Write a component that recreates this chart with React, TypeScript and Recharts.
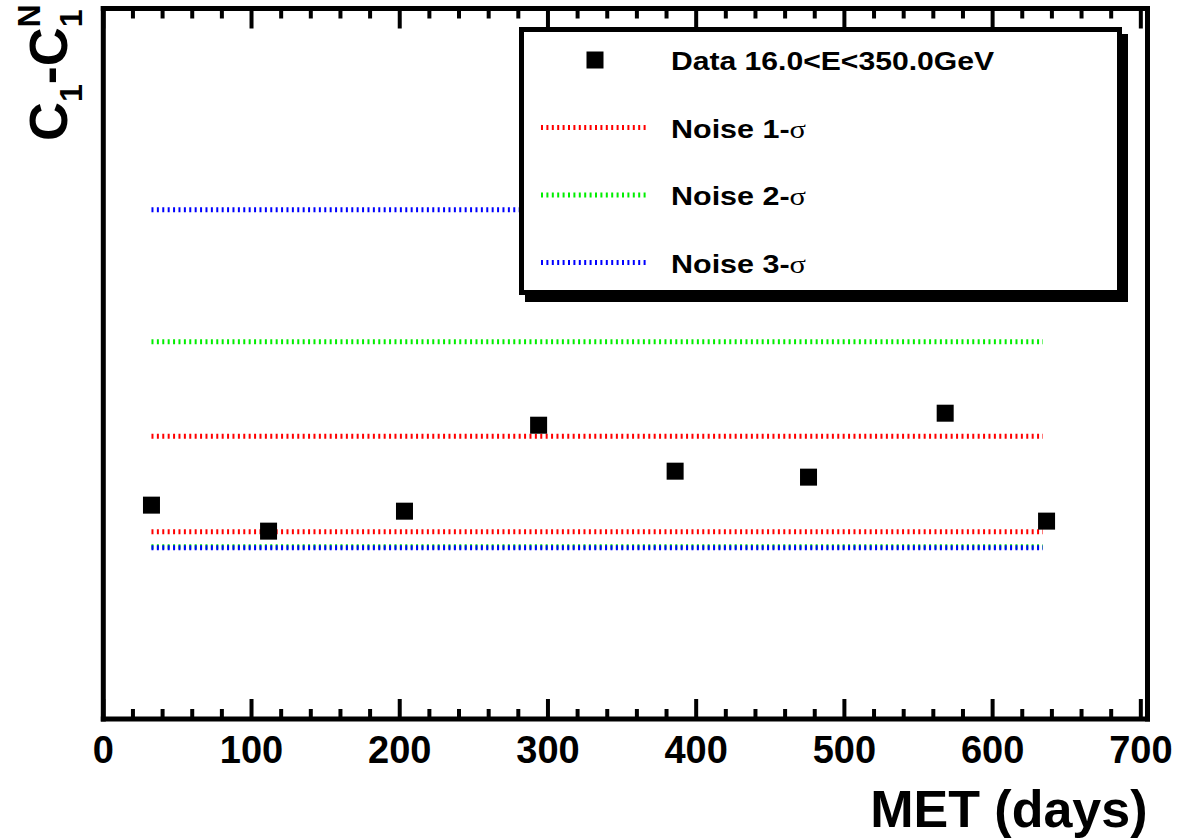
import React from "react";
import { ComposedChart, Legend, Line, Scatter, XAxis, YAxis } from "recharts";

// measurement points
const metDays = [32.5, 111.5, 203.2, 293.7, 385.8, 475.8, 568.0, 636.4];
const c1Diff = [30.1, 26.44, 29.25, 41.35, 34.88, 34.04, 43.04, 27.85];

// noise bands: [lower, upper], drawn over this day range
const bandDays = [32.5, 634];
const noise1 = [26.37, 39.8];
const noise2 = [24.26, 53.09];
const noise3 = [24.12, 71.66];

const xTicks = [
  0, 20, 40, 60, 80, 100, 120, 140, 160, 180, 200, 220, 240, 260, 280, 300, 320, 340,
  360, 380, 400, 420, 440, 460, 480, 500, 520, 540, 560, 580, 600, 620, 640, 660, 680, 700,
];

const FONT = '"Liberation Sans", Arial, Helvetica, sans-serif';
const DOTS = "2 3.4";

const points = metDays.map((x, i) => ({ x, y: c1Diff[i] }));
const flat = (v: number) => bandDays.map((x) => ({ x, y: v }));

const noiseLines = [
  { key: "n1lo", color: "#ff0000", data: flat(noise1[0]) },
  { key: "n1hi", color: "#ff0000", data: flat(noise1[1]) },
  { key: "n2lo", color: "#00ee00", data: flat(noise2[0]) },
  { key: "n2hi", color: "#00ee00", data: flat(noise2[1]) },
  { key: "n3lo", color: "#0000ff", data: flat(noise3[0]) },
  { key: "n3hi", color: "#0000ff", data: flat(noise3[1]) },
];

const legendRows = [
  { label: "Data 16.0<E<350.0GeV", color: "#000", marker: true, len: 323 },
  { label: "Noise 1-", color: "#ff0000", marker: false, len: 135 },
  { label: "Noise 2-", color: "#00ee00", marker: false, len: 135 },
  { label: "Noise 3-", color: "#0000ff", marker: false, len: 135 },
];

const BottomTick = (props: any) => {
  const { x, y, payload } = props;
  const major = payload.value % 100 === 0;
  return (
    <g>
      <line x1={x} x2={x} y1={y} y2={y - (major ? 20 : 10)} stroke="#000" strokeWidth={4} />
      {major && (
        <text x={x} y={y + 44} textAnchor="middle" fontFamily={FONT} fontWeight="bold" fontSize={38} fill="#000">
          {payload.value}
        </text>
      )}
    </g>
  );
};

const TopTick = (props: any) => {
  const { x, y, payload } = props;
  const major = payload.value % 100 === 0;
  return <line x1={x} x2={x} y1={y} y2={y + (major ? 20 : 10)} stroke="#000" strokeWidth={4} />;
};

const Square = (props: any) => {
  const { cx, cy } = props;
  return <rect x={cx - 8.5} y={cy - 8.5} width={17} height={17} fill="#000" />;
};

const YTitle = () => (
  <text transform="translate(67,141) rotate(-90)" fontFamily={FONT} fontWeight="bold" fontSize={54} fill="#000">
    C
    <tspan fontSize={32} dy={15}>1</tspan>
    <tspan dy={-15}>-C</tspan>
    <tspan fontSize={32} dy={15}>1</tspan>
    <tspan fontSize={32} dx={-18} dy={-42}>N</tspan>
  </text>
);

const XTitle = (props: any) => {
  const vb = props.viewBox;
  return (
    <text x={vb.x + vb.width} y={827} textAnchor="end" fontFamily={FONT} fontWeight="bold" fontSize={52} fill="#000">
      MET (days)
    </text>
  );
};

const LegendBox = () => (
  <svg width={615} height={280} style={{ display: "block" }}>
    <rect x={6} y={7} width={603} height={268} fill="#000" />
    <rect x={2.5} y={2.5} width={598} height={263} fill="#fff" stroke="#000" strokeWidth={5} />
    {legendRows.map((r, i) => {
      const cy = 33 + i * 67.5;
      return (
        <g key={r.label}>
          {r.marker ? (
            <rect x={76 - 8.5} y={cy - 8.5} width={17} height={17} fill="#000" />
          ) : (
            <line x1={22} x2={128} y1={cy} y2={cy} stroke={r.color} strokeWidth={5} strokeDasharray={DOTS} />
          )}
          <text
            x={152}
            y={cy + 10}
            fontFamily={FONT}
            fontWeight="bold"
            fontSize={26}
            fill="#000"
            textLength={r.len}
            lengthAdjust="spacingAndGlyphs"
          >
            {r.label}
            {!r.marker && (
              <tspan fontFamily='"Liberation Serif", serif' fontWeight="normal">
                σ
              </tspan>
            )}
          </text>
        </g>
      );
    })}
  </svg>
);

export default function App() {
  return (
    <div style={{ position: "absolute", left: 0, top: 0, background: "#fff" }}>
      <ComposedChart width={1179} height={838} margin={{ top: 7.5, right: 0, bottom: 0, left: 0 }}>
        <XAxis
          dataKey="x"
          type="number"
          domain={[0, 704.5]}
          allowDataOverflow
          ticks={xTicks}
          interval={0}
          height={119}
          tickSize={0}
          tickMargin={0}
          tickLine={false}
          tick={<BottomTick />}
          axisLine={{ stroke: "#000", strokeWidth: 5, strokeLinecap: "square" }}
          label={{ content: XTitle }}
        />
        <XAxis
          xAxisId="top"
          dataKey="x"
          orientation="top"
          type="number"
          domain={[0, 704.5]}
          allowDataOverflow
          ticks={xTicks}
          interval={0}
          height={1}
          tickSize={0}
          tickMargin={0}
          tickLine={false}
          tick={<TopTick />}
          axisLine={{ stroke: "#000", strokeWidth: 5, strokeLinecap: "square" }}
        />
        <YAxis
          type="number"
          domain={[0, 100]}
          allowDataOverflow
          width={103.3}
          tick={false}
          tickLine={false}
          axisLine={{ stroke: "#000", strokeWidth: 5, strokeLinecap: "square" }}
          label={{ content: YTitle }}
        />
        <YAxis
          yAxisId="right"
          orientation="right"
          type="number"
          domain={[0, 100]}
          width={31.5}
          tick={false}
          tickLine={false}
          axisLine={{ stroke: "#000", strokeWidth: 5, strokeLinecap: "square" }}
        />
        {noiseLines.map((n) => (
          <Line
            key={n.key}
            xAxisId="top"
            data={n.data}
            dataKey="y"
            type="linear"
            stroke={n.color}
            strokeWidth={5}
            strokeDasharray={DOTS}
            dot={false}
            activeDot={false}
            isAnimationActive={false}
          />
        ))}
        <Scatter data={points} dataKey="y" shape={<Square />} isAnimationActive={false} />
        <Legend
          layout="vertical"
          align="center"
          verticalAlign="middle"
          content={() => <LegendBox />}
          wrapperStyle={{ left: 519, top: 27, width: 615, height: 280 }}
        />
      </ComposedChart>
    </div>
  );
}
